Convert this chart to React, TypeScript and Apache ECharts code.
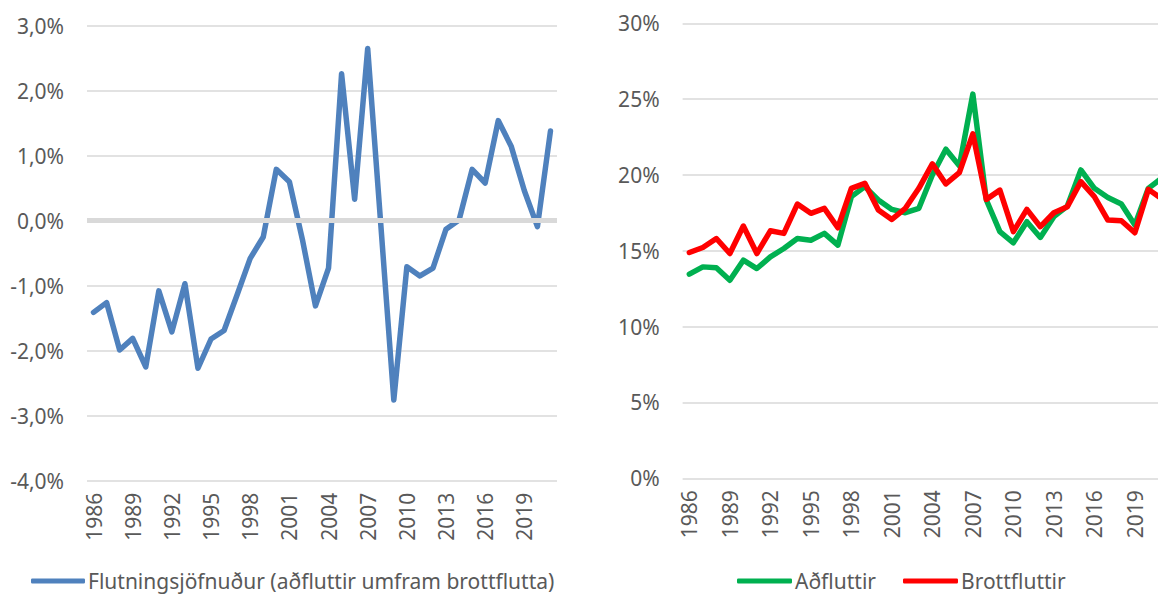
import React, { useEffect, useRef } from "react";
import * as echarts from "echarts";

const years = [
  "1986","1987","1988","1989","1990","1991","1992","1993","1994","1995",
  "1996","1997","1998","1999","2000","2001","2002","2003","2004","2005",
  "2006","2007","2008","2009","2010","2011","2012","2013","2014","2015",
  "2016","2017","2018","2019","2020","2021",
];

const netMigration = [
  -1.41, -1.26, -1.99, -1.81, -2.25, -1.08, -1.71, -0.97, -2.27, -1.82,
  -1.69, -1.14, -0.58, -0.25, 0.79, 0.6, -0.29, -1.31, -0.73, 2.26,
  0.33, 2.65, -0.05, -2.76, -0.71, -0.85, -0.73, -0.13, 0.01, 0.79,
  0.58, 1.54, 1.14, 0.46, -0.09, 1.38,
];

const inMigration = [
  13.46, 13.94, 13.88, 13.06, 14.38, 13.83, 14.6, 15.15, 15.81, 15.7,
  16.15, 15.37, 18.57, 19.23, 18.35, 17.73, 17.51, 17.8, 20.0, 21.7,
  20.6, 25.33, 18.35, 16.26, 15.53, 16.92, 15.88, 17.25, 17.95, 20.33,
  19.12, 18.52, 18.08, 16.7, 19.12, 19.8,
];

const outMigration = [
  14.89, 15.22, 15.81, 14.82, 16.63, 14.82, 16.32, 16.15, 18.08, 17.47,
  17.8, 16.52, 19.12, 19.45, 17.69, 17.07, 17.8, 19.12, 20.73, 19.41,
  20.15, 22.71, 18.39, 19.0, 16.26, 17.73, 16.59, 17.51, 17.91, 19.56,
  18.57, 17.03, 16.98, 16.19, 19.05, 18.42,
];

const leftTicks = { min: -4, max: 3, interval: 1 };
const rightTicks = { min: 0, max: 30, interval: 5 };

const seriesNames = {
  net: "Flutningsjöfnuður (aðfluttir umfram brottflutta)",
  inn: "Aðfluttir",
  out: "Brottfluttir",
};

const FONT = "'Noto Sans', 'Open Sans', sans-serif";
const TEXT = "#595959";
const GRID = "#D9D9D9";
const FS = 21;

export default function App() {
  const ref = useRef<HTMLDivElement>(null);

  useEffect(() => {
    if (!ref.current) return;
    const chart = echarts.init(ref.current, undefined, { renderer: "svg" });

    const xAxisBase = {
      type: "category" as const,
      data: years,
      boundaryGap: true,
      axisLine: { show: false },
      axisTick: { show: false },
      splitLine: { show: false },
      axisLabel: {
        interval: 2,
        rotate: 90,
        fontSize: FS,
        fontFamily: FONT,
        color: TEXT,
        margin: 12,
      },
    };

    const yAxisBase = {
      type: "value" as const,
      axisLine: { show: false },
      axisTick: { show: false },
      splitLine: { show: true, lineStyle: { color: GRID, width: 1.5 } },
    };

    const lineBase = {
      type: "line" as const,
      symbol: "none",
      showSymbol: false,
      z: 3,
      lineStyle: { width: 5.5, cap: "round", join: "round" },
    };

    const legendText = {
      fontSize: FS,
      fontFamily: FONT,
      color: TEXT,
      lineHeight: 22,
      padding: [0, 0, 0, -2],
    };

    chart.setOption({
      animation: false,
      backgroundColor: "#ffffff",
      textStyle: { fontFamily: FONT },
      grid: [
        { left: 87, top: 25.7, width: 470, height: 455 },
        { left: 682.6, top: 23.3, width: 486, height: 455 },
      ],
      xAxis: [
        { ...xAxisBase, gridIndex: 0 },
        { ...xAxisBase, gridIndex: 1 },
      ],
      yAxis: [
        {
          ...yAxisBase,
          gridIndex: 0,
          ...leftTicks,
          axisLabel: {
            fontSize: FS,
            fontFamily: FONT,
            color: TEXT,
            margin: 23,
            formatter: (v: number) => v.toFixed(1).replace(".", ",") + "%",
          },
        },
        {
          ...yAxisBase,
          gridIndex: 1,
          ...rightTicks,
          axisLabel: {
            fontSize: FS,
            fontFamily: FONT,
            color: TEXT,
            margin: 23,
            formatter: (v: number) => v + "%",
          },
        },
      ],
      legend: [
        {
          data: [seriesNames.net],
          left: 31,
          top: 570,
          padding: 0,
          itemWidth: 54,
          itemHeight: 5,
          icon: "roundRect",
          textStyle: legendText,
        },
        {
          data: [seriesNames.inn, seriesNames.out],
          left: 737,
          top: 570,
          padding: 0,
          itemWidth: 55,
          itemHeight: 5,
          itemGap: 27,
          icon: "roundRect",
          textStyle: legendText,
        },
      ],
      series: [
        {
          type: "line",
          name: "zero",
          xAxisIndex: 0,
          yAxisIndex: 0,
          data: [],
          z: 1,
          silent: true,
          markLine: {
            silent: true,
            symbol: "none",
            label: { show: false },
            lineStyle: { color: GRID, width: 5, type: "solid" },
            data: [{ yAxis: 0 }],
          },
        },
        {
          ...lineBase,
          name: seriesNames.net,
          xAxisIndex: 0,
          yAxisIndex: 0,
          data: netMigration,
          color: "#4F81BD",
          lineStyle: { ...lineBase.lineStyle, color: "#4F81BD" },
        },
        {
          ...lineBase,
          name: seriesNames.inn,
          xAxisIndex: 1,
          yAxisIndex: 1,
          data: inMigration,
          color: "#00B050",
          lineStyle: { ...lineBase.lineStyle, color: "#00B050" },
        },
        {
          ...lineBase,
          name: seriesNames.out,
          xAxisIndex: 1,
          yAxisIndex: 1,
          data: outMigration,
          color: "#FF0000",
          lineStyle: { ...lineBase.lineStyle, color: "#FF0000" },
        },
      ],
    });

    return () => chart.dispose();
  }, []);

  return (
    <div
      style={{
        position: "fixed",
        left: 0,
        top: 0,
        width: 1158,
        height: 596,
        overflow: "hidden",
        background: "#fff",
      }}
    >
      <div ref={ref} style={{ width: 1180, height: 596 }} />
    </div>
  );
}
